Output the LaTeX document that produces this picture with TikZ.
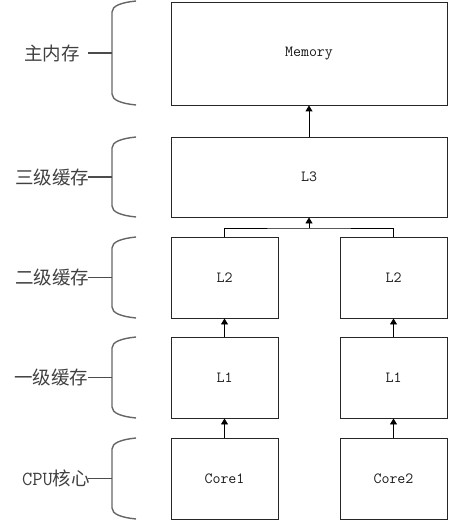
\documentclass[tikz,border=0pt]{standalone}
\usepackage{fontspec}
\newfontfamily\cjk{Noto Sans CJK SC}
\usetikzlibrary{arrows.meta}
\begin{document}
\begin{tikzpicture}[x=1pt,y=-1pt,
  boxbase/.style={draw=black!85, line width=0.9pt, inner sep=0pt, text=black!90,
    font=\ttfamily\fontsize{15.5}{15.5}\selectfont},
  widebox/.style={boxbase, minimum width=276pt},
  narrowbox/.style={boxbase, minimum width=107pt},
  arr/.style={draw=black, line width=0.9pt, -{Triangle[width=7pt,length=6pt]}},
  conn/.style={draw=black, line width=0.9pt},
  bracepath/.style={draw=black!60, line width=1.4pt},
  tickline/.style={draw=black!70, line width=1.2pt},
  lab/.style={text=black!75, inner sep=0pt, font=\cjk\fontsize{18.5}{18.5}\selectfont}
]
\useasboundingbox (0,0) rectangle (449,521);

% boxes
\node[widebox, minimum height=103pt] (mem) at (309,53.5) {Memory};
\node[widebox, minimum height=80pt] (l3) at (309,177) {L3};
\node[narrowbox, minimum height=81pt] (l2a) at (224.5,277.5) {L2};
\node[narrowbox, minimum height=81pt] (l2b) at (393.5,277.5) {L2};
\node[narrowbox, minimum height=81pt] (l1a) at (224.5,377.5) {L1};
\node[narrowbox, minimum height=81pt] (l1b) at (393.5,377.5) {L1};
\node[narrowbox, minimum height=81pt] (c1) at (224.5,478.5) {Core1};
\node[narrowbox, minimum height=81pt] (c2) at (393.5,478.5) {Core2};

% connectors
\draw[arr] (c1) -- (l1a);
\draw[arr] (c2) -- (l1b);
\draw[arr] (l1a) -- (l2a);
\draw[arr] (l1b) -- (l2b);
\coordinate (jn) at (309,228);
\draw[conn] (l2a.north) |- (jn) -| (l2b.north);
\draw[arr] (jn) -- (l3.south);
\draw[arr] (l3) -- (mem);

% braces and labels
\foreach \t/\b/\lx/\lab/\n in {1/105/52/主内存/a, 137/217/52/三级缓存/b, 237/318/52/二级缓存/c, 337/418/51/一级缓存/d, 438/519/56/{{\ttfamily\fontsize{20}{20}\selectfont CPU}核心}/e}{
  \draw[bracepath] (136,\t) .. controls (121,\t+1.5) and (112,\t+5) .. (112,\t+11)
     -- (112,\b-11) .. controls (112,\b-5) and (121,\b-1.5) .. (136,\b);
  \coordinate (br\n) at (112,{(\t+\b)/2});
  \coordinate (tk\n) at (88,{(\t+\b)/2});
  \draw[tickline] (br\n) -- (tk\n);
  \node[lab] (lab\n) at (\lx,{(\t+\b)/2}) {\lab};
}
\end{tikzpicture}
\end{document}
